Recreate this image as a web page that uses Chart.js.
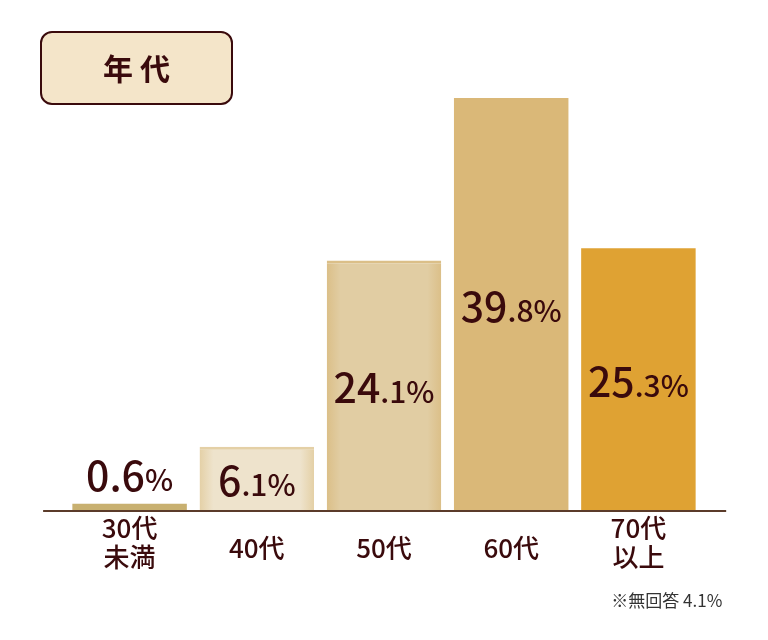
<!DOCTYPE html>
<html lang="ja">
<head>
<meta charset="utf-8">
<title>年代</title>
<script src="https://cdn.jsdelivr.net/npm/chart.js@4.4.1/dist/chart.umd.min.js"></script>
<style>
  html, body { margin: 0; padding: 0; background: #fff; }
  #wrap { width: 768px; height: 640px; }
</style>
</head>
<body>
<div id="wrap"><canvas id="ageChart" width="768" height="640"></canvas></div>
<script>
// data
const categories = [['30代', '未満'], ['40代'], ['50代'], ['60代'], ['70代', '以上']];
const shares = [0.6, 6.1, 24.1, 39.8, 25.3];
const chartTitle = '年代';
const footnote = '※無回答 4.1%';

// bar look (inner colour, soft edge colour)
const fillColors = ['#c8b070', '#eee3cc', '#e1cda3', '#dab878', '#dfa233'];
const edgeColors = ['#c8b070', '#e4d0a6', '#dbbf88', '#dab878', '#dfa233'];
const ink = '#3a0a0c';
const jpFont = '"Noto Sans CJK JP", "Noto Sans", sans-serif';
const barPct = 0.9;

// soft vignette on the side edges
function barFill(context) {
  const i = context.dataIndex;
  const chart = context.chart;
  const xScale = chart.scales.x;
  if (!chart.chartArea || !xScale || fillColors[i] === edgeColors[i]) return fillColors[i];
  const step = xScale.getPixelForValue(1) - xScale.getPixelForValue(0);
  const cx = xScale.getPixelForValue(i);
  const half = step * barPct / 2;
  const g = chart.ctx.createLinearGradient(cx - half, 0, cx + half, 0);
  g.addColorStop(0, edgeColors[i]);
  g.addColorStop(0.12, fillColors[i]);
  g.addColorStop(0.88, fillColors[i]);
  g.addColorStop(1, edgeColors[i]);
  return g;
}

function barBorder(context) {
  const i = context.dataIndex;
  return fillColors[i] === edgeColors[i] ? 0 : { top: 3, left: 0, right: 0, bottom: 0 };
}

// title box top-left
const titleBox = {
  id: 'titleBox',
  afterDraw(chart) {
    const ctx = chart.ctx;
    ctx.save();
    const x = 41, y = 32, w = 191, h = 72, r = 11;
    ctx.beginPath();
    ctx.roundRect(x, y, w, h, r);
    ctx.fillStyle = '#f4e5c9';
    ctx.fill();
    ctx.lineWidth = 2;
    ctx.strokeStyle = ink;
    ctx.stroke();
    ctx.fillStyle = ink;
    ctx.font = '700 30px ' + jpFont;
    ctx.textAlign = 'center';
    ctx.textBaseline = 'middle';
    const chars = chartTitle.split('');
    chars.forEach((c, i) => {
      ctx.fillText(c, x + w / 2 + (i - (chars.length - 1) / 2) * 37, y + h / 2 + 1);
    });
    ctx.restore();
  }
};

// baseline, category names, value labels, footnote
const decorations = {
  id: 'decorations',
  afterDatasetsDraw(chart) {
    const ctx = chart.ctx;
    const area = chart.chartArea;
    const xScale = chart.scales.x;
    const yScale = chart.scales.y;
    const step = xScale.getPixelForValue(1) - xScale.getPixelForValue(0);
    const base = yScale.getPixelForValue(0);
    ctx.save();

    // baseline slightly wider than the category band
    ctx.strokeStyle = '#5b3b2a';
    ctx.lineWidth = 2;
    ctx.beginPath();
    ctx.moveTo(area.left - step * 0.18, base + 1);
    ctx.lineTo(area.right + step * 0.19, base + 1);
    ctx.stroke();

    // category labels
    ctx.fillStyle = ink;
    ctx.textAlign = 'center';
    ctx.textBaseline = 'middle';
    ctx.font = '500 26px ' + jpFont;
    categories.forEach((lines, i) => {
      const cx = xScale.getPixelForValue(i);
      if (lines.length === 1) {
        ctx.fillText(lines[0], cx, base + 38);
      } else {
        lines.forEach((t, j) => ctx.fillText(t, cx, base + 18 + j * 29));
      }
    });

    // value labels: big whole part, smaller decimal part
    const meta = chart.getDatasetMeta(0);
    ctx.textAlign = 'left';
    ctx.textBaseline = 'alphabetic';
    meta.data.forEach((bar, i) => {
      const txt = shares[i].toFixed(1);
      let big = txt.split('.')[0];
      let small = '.' + txt.split('.')[1] + '%';
      if (big === '0') { big = txt; small = '%'; }
      ctx.font = '500 41px ' + jpFont;
      const wBig = ctx.measureText(big).width;
      ctx.font = '500 30px ' + jpFont;
      const wSmall = ctx.measureText(small).width;
      const left = bar.x - (wBig + wSmall) / 2;
      const h = bar.base - bar.y;
      const y = h < 40 ? bar.y - 13 : (bar.y + bar.base) / 2 + 18;
      ctx.font = '500 41px ' + jpFont;
      ctx.fillText(big, left, y);
      ctx.font = '500 30px ' + jpFont;
      ctx.fillText(small, left + wBig, y);
    });

    // footnote
    ctx.fillStyle = '#333';
    ctx.font = '400 17px ' + jpFont;
    ctx.textAlign = 'right';
    ctx.textBaseline = 'middle';
    ctx.fillText(footnote, area.right + step * 0.16, base + 91);
    ctx.restore();
  }
};

new Chart(document.getElementById('ageChart'), {
  type: 'bar',
  data: {
    labels: categories,
    datasets: [{
      data: shares,
      backgroundColor: barFill,
      borderColor: edgeColors,
      borderWidth: barBorder,
      borderSkipped: 'bottom',
      barPercentage: barPct,
      categoryPercentage: 1
    }]
  },
  options: {
    responsive: false,
    animation: false,
    layout: { padding: { top: 96, bottom: 130, left: 66, right: 66 } },
    plugins: {
      legend: { display: false },
      tooltip: { enabled: false }
    },
    scales: {
      x: { display: false },
      y: { display: false, min: 0, max: 40 }
    }
  },
  plugins: [titleBox, decorations]
});
</script>
</body>
</html>
